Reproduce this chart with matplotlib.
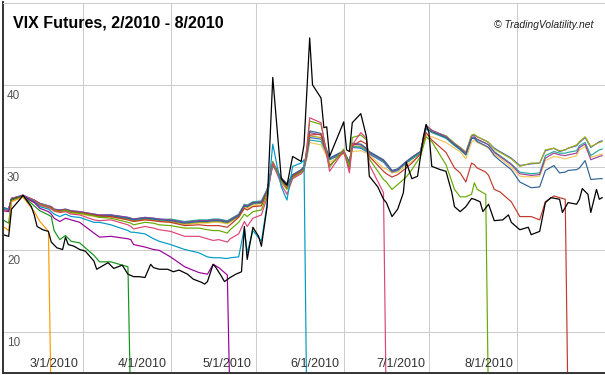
import numpy as np
import matplotlib
matplotlib.use("Agg")
import matplotlib.pyplot as plt

plt.rcParams['font.family'] = ['Liberation Sans', 'DejaVu Sans']

start = np.datetime64('2010-02-01')

fut_days = [0, 2, 3, 7, 11, 13, 16, 17, 18, 20,
            22, 24, 27, 32, 34, 38, 44, 45, 46, 50,
            53, 55, 59, 64, 69, 72, 74, 76, 79, 80,
            83, 85, 86, 88, 91, 93, 95, 98, 100, 102,
            105, 106, 107, 108, 112, 115, 120, 122, 123, 126,
            128, 129, 134, 135, 137, 139, 142, 144, 147, 149,
            151, 156, 159, 161, 163, 165, 166, 167, 170, 171,
            173, 175, 179, 182, 186, 189, 191, 194, 196, 198,
            199, 202, 203, 205, 207, 210, 211]

# expiring contracts: quotes until expiry, then 0
feb = [22.8, 22.3, 25.8, 26.4, 24.6, 23.4, 22.2, 0]
mar = [23.6, 23.2, 26.0, 26.5, 25.3, 24.7, 24.2, 24.0, 22.3, 21.2,
       21.7, 21.0, 20.8, 19.3, 18.5, 18.5, 17.9, 0]
apr = [24.7, 24.6, 26.1, 26.5, 25.7, 25.0, 24.6, 24.3, 23.8, 23.4,
       23.8, 23.6, 23.3, 22.0, 21.5, 21.6, 21.3, 21.2, 20.6, 20.3,
       20.0, 19.9, 19.1, 17.9, 17.2, 17.0, 18.2, 17.8, 16.9, 0]
may = [25.0, 24.9, 26.1, 26.5, 25.8, 25.2, 24.9, 24.6, 24.3, 24.0,
       24.3, 24.0, 23.9, 23.3, 23.3, 23.0, 22.3, 22.1, 22.1, 21.9,
       21.3, 21.0, 20.6, 20.0, 19.6, 19.1, 19.0, 19.0, 18.9, 19.0,
       19.1, 22.6, 19.6, 22.3, 21.0, 25.5, 32.8, 27.6, 26.0, 30.1,
       30.5, 30.9, 0]
jun = [24.9, 24.8, 26.2, 26.5, 25.9, 25.4, 25.1, 24.9, 24.7, 24.5,
       24.6, 24.3, 24.2, 23.6, 23.5, 23.6, 23.0, 22.8, 22.5, 22.8,
       22.6, 22.4, 22.2, 21.6, 21.6, 21.3, 21.1, 21.2, 20.9, 21.3,
       21.9, 23.4, 22.8, 23.8, 24.2, 26.3, 30.5, 27.9, 26.7, 28.6,
       29.2, 29.6, 32.4, 36.0, 35.4, 29.5, 32.0, 29.3, 32.7, 34.2,
       33.5, 30.3, 26.9, 0]
jul = [25.0, 24.8, 26.2, 26.5, 25.9, 25.5, 25.2, 25.0, 24.8, 24.6,
       24.8, 24.5, 24.4, 24.1, 23.9, 23.8, 23.3, 23.2, 23.0, 23.3,
       23.2, 23.0, 22.9, 22.6, 22.6, 22.4, 22.3, 22.3, 22.0, 22.4,
       23.3, 24.3, 24.0, 24.6, 24.8, 26.7, 30.7, 28.2, 27.3, 28.7,
       29.4, 29.7, 32.2, 35.6, 35.2, 30.0, 32.2, 30.0, 33.6, 33.9,
       33.3, 31.0, 28.5, 28.2, 27.3, 27.9, 28.8, 29.7, 31.3, 33.7,
       33.1, 30.3, 27.3, 26.4, 26.4, 26.7, 28.1, 27.3, 26.7, 0]
aug = [25.0, 24.9, 26.2, 26.5, 26.0, 25.5, 25.2, 25.1, 24.8, 24.7,
       24.8, 24.6, 24.5, 24.2, 24.1, 24.0, 23.6, 23.5, 23.4, 23.6,
       23.5, 23.4, 23.3, 22.9, 23.0, 22.9, 22.9, 22.9, 22.7, 23.0,
       23.9, 25.0, 24.8, 25.2, 25.3, 27.0, 30.6, 28.4, 27.5, 28.9,
       29.5, 29.8, 32.0, 33.9, 34.0, 30.2, 31.9, 29.8, 32.6, 33.2,
       32.8, 31.3, 29.5, 29.2, 28.8, 29.1, 29.9, 30.5, 31.6, 34.2,
       33.3, 31.8, 29.9, 29.3, 28.2, 30.5, 30.3, 29.9, 29.4, 29.0,
       27.3, 27.0, 25.8, 24.0, 24.0, 23.6, 25.8, 26.5, 26.3, 26.1,
       0]

# later contracts, quoted over the whole period
sep = [25.0, 24.8, 26.1, 26.5, 25.9, 25.5, 25.2, 25.1, 24.8, 24.7,
       24.8, 24.6, 24.5, 24.2, 24.1, 24.1, 23.8, 23.7, 23.6, 23.8,
       23.7, 23.6, 23.5, 23.2, 23.4, 23.4, 23.5, 23.5, 23.3, 23.5,
       24.1, 25.3, 25.2, 25.6, 25.7, 27.1,
       30.6, 28.7, 28.0, 29.1, 29.7, 30.1, 31.9, 34.4, 34.1, 31.1,
       32.0, 30.5, 32.9, 32.8, 32.3, 31.9, 30.9, 30.5, 29.6, 29.8,
       30.7, 31.2, 31.9,
       34.7, 34.3, 33.6, 32.7, 32.2, 31.5, 33.5, 33.5, 33.1, 32.6, 32.4,
       31.4, 30.8, 29.7, 28.2, 27.5, 27.6, 29.6, 30.2, 29.3, 29.4,
       29.6, 29.7, 29.9, 30.8, 28.5, 28.6, 28.6]
oct_ = [25.1, 24.9, 26.2, 26.6, 26.0, 25.6, 25.3, 25.2, 24.9, 24.8,
        24.9, 24.7, 24.6, 24.3, 24.2, 24.2, 23.9, 23.8, 23.7, 23.9,
        23.8, 23.7, 23.6, 23.3, 23.5, 23.5, 23.6, 23.6, 23.4, 23.6,
        24.2, 25.4, 25.3, 25.7, 25.8, 27.2,
        30.5, 28.6, 27.9, 29.0, 29.6, 30.0, 31.8, 34.2, 33.9, 31.0,
        31.9, 30.6, 32.8, 32.7, 32.2, 31.8, 30.8, 30.4, 29.5, 29.7,
        30.6, 31.2, 31.9,
        35.1, 34.5, 33.7, 32.8, 32.3, 31.7, 33.6, 33.7, 33.4, 32.9, 32.7,
        31.8, 31.3, 30.3, 29.2, 29.0, 29.1, 31.1, 31.7, 31.5, 31.4,
        31.5, 31.7, 32.4, 32.8, 30.9, 31.3, 31.4]
nov = [25.0, 24.8, 26.1, 26.5, 25.9, 25.5, 25.2, 25.1, 24.8, 24.7,
       24.8, 24.6, 24.5, 24.2, 24.1, 24.1, 23.8, 23.7, 23.6, 23.8,
       23.7, 23.6, 23.7, 23.4, 23.6, 23.6, 23.7, 23.7, 23.5, 23.7,
       24.3, 25.5, 25.4, 25.8, 25.9, 27.3,
       30.2, 28.5, 27.9, 28.9, 29.5, 29.9, 31.3, 33.3, 33.1, 30.9,
       31.8, 30.6, 32.5, 32.4, 32.0, 31.7, 30.7, 30.3, 29.5, 29.6,
       30.5, 31.0, 31.7,
       34.7, 34.2, 33.5, 32.6, 32.1, 31.5, 33.5, 33.6, 33.3, 32.9, 32.7,
       31.9, 31.4, 30.4, 29.4, 29.2, 29.3, 31.4, 31.9, 31.7, 31.7,
       31.8, 32.0, 32.6, 33.0, 31.4, 32.1, 32.2]
dec = [24.9, 24.7, 26.0, 26.4, 25.8, 25.4, 25.1, 25.0, 24.7, 24.6,
       24.7, 24.5, 24.4, 24.1, 24.0, 24.0, 23.7, 23.6, 23.5, 23.7,
       23.6, 23.5, 23.4, 23.1, 23.3, 23.3, 23.4, 23.4, 23.2, 23.4,
       24.0, 25.2, 25.1, 25.5, 25.6, 27.0,
       30.4, 28.6, 27.9, 28.9, 29.5, 29.9, 31.5, 33.8, 33.6, 31.0,
       31.8, 30.6, 32.6, 32.5, 32.1, 31.8, 30.7, 30.4, 29.5, 29.7,
       30.6, 31.1, 31.8,
       34.9, 34.4, 33.8, 32.9, 32.4, 31.8, 33.9, 34.0, 33.7, 33.2, 33.0,
       32.2, 31.8, 31.0, 30.1, 30.5, 30.5, 32.1, 32.3, 32.0, 32.1,
       32.3, 32.7, 33.1, 33.7, 32.5, 33.0, 33.1]
jan = [25.1, 24.9, 26.2, 26.6, 26.0, 25.6, 25.3, 25.2, 24.9, 24.8,
       24.9, 24.7, 24.6, 24.3, 24.2, 24.2, 23.9, 23.8, 23.7, 23.9,
       23.8, 23.7, 23.6, 23.3, 23.5, 23.5, 23.6, 23.6, 23.4, 23.6,
       24.2, 25.4, 25.3, 25.7, 25.8, 27.2,
       30.3, 28.5, 27.8, 28.8, 29.4, 29.8, 31.4, 33.6, 33.4, 30.9,
       31.7, 30.6, 32.4, 32.3, 31.9, 31.6, 30.6, 30.2, 29.4, 29.6,
       30.5, 31.0, 31.7,
       34.9, 34.4, 33.8, 32.9, 32.4, 31.8, 33.8, 33.9, 33.7, 33.2, 33.0,
       32.3, 31.9, 31.1, 30.2, 30.4, 30.5, 32.0, 32.3, 31.9, 32.1,
       32.3, 32.6, 33.0, 33.6, 32.4, 33.1, 33.2]
feb11 = [24.8, 24.6, 25.9, 26.3, 25.7, 25.3, 25.0, 24.9, 24.6, 24.5,
         24.6, 24.4, 24.3, 24.0, 23.9, 23.9, 23.6, 23.5, 23.4, 23.6,
         23.5, 23.4, 23.3, 23.0, 23.2, 23.2, 23.3, 23.3, 23.1, 23.3,
         23.9, 25.0, 24.9, 25.3, 25.4, 26.8,
         30.3, 28.4, 27.9, 28.7, 29.3, 29.7, 31.0, 33.0, 32.7, 30.6,
         31.6, 30.7, 31.9, 32.0, 31.7, 31.5, 29.9, 29.8, 29.3, 29.4,
         30.2, 30.7, 31.5,
         33.9, 33.7, 33.0, 32.3, 31.9, 31.0, 33.0, 33.3, 33.0, 32.5, 32.3,
         31.6, 31.1, 30.0, 28.9, 28.8, 28.9, 30.8, 31.3, 31.2, 31.0,
         31.1, 31.4, 32.1, 32.5, 31.2, 31.5, 31.6]

# VIX index
vix_days = [0, 2, 3, 6, 7, 10, 11, 12, 14, 16,
            17, 19, 21, 22, 23, 25, 27, 29, 32, 33,
            34, 37, 39, 42, 44, 46, 48, 50, 52, 53,
            55, 58, 60, 62, 65, 67, 70, 71, 72, 74,
            75, 77, 78, 80, 82, 84, 85, 86, 88, 90,
            91, 93, 95, 98, 100, 102, 105, 106, 108, 109,
            112, 113, 114, 115, 120, 121, 122, 123, 126, 128,
            129, 132, 134, 135, 137, 139, 141, 142, 144, 146,
            148, 149, 150, 151, 154, 156, 158, 159, 161, 163,
            165, 166, 168, 169, 171, 173, 176, 178, 179, 182,
            185, 186, 189, 191, 193, 196, 197, 199, 202, 203,
            204, 206, 207, 209, 210, 211]
vix = [21.8, 21.6, 24.9, 26.1, 26.6, 25.2, 24.2, 22.8, 22.4, 22.2,
       20.9, 20.2, 20.0, 21.5, 20.6, 20.4, 20.0, 19.8, 18.6, 17.6,
       17.8, 18.4, 17.7, 18.1, 17.0, 16.7, 16.7, 16.6, 18.2, 17.8,
       17.6, 17.6, 17.3, 17.5, 17.0, 16.4, 16.0, 15.8, 16.1, 18.2,
       17.8, 16.7, 16.1, 16.6, 17.0, 17.3, 22.8, 18.8, 22.7, 21.6,
       20.4, 25.2, 40.9, 28.6, 27.8, 31.3, 30.7, 32.7, 45.7, 40.0,
       38.4, 34.8, 34.9, 31.3, 35.5, 32.1, 31.9, 35.4, 36.5, 33.7,
       28.9, 27.6, 26.1, 25.7, 24.0, 24.9, 26.9, 30.6, 28.6, 28.9,
       33.6, 35.2, 34.2, 30.1, 29.7, 29.5, 27.0, 25.2, 24.6, 25.2,
       26.2, 26.1, 25.8, 24.6, 25.5, 23.5, 23.6, 24.2, 23.3, 22.4,
       22.7, 21.8, 22.2, 25.7, 26.3, 26.1, 24.5, 25.7, 25.5, 26.1,
       27.4, 26.7, 24.5, 27.3, 26.1, 26.3]

month_starts = ['2010-03-01', '2010-04-01', '2010-05-01',
                '2010-06-01', '2010-07-01', '2010-08-01']
month_labels = ['3/1/2010', '4/1/2010', '5/1/2010',
                '6/1/2010', '7/1/2010', '8/1/2010']
y_labels = [10, 20, 30, 40]

futures = [
    (feb11, '#f7c65c'), (jan, '#3366cc'), (dec, '#aaaa11'),
    (nov, '#22aa99'), (oct_, '#994499'), (sep, '#316395'),
    (aug, '#c0392b'), (jul, '#66aa00'), (jun, '#dd4477'),
    (may, '#0099c6'), (apr, '#990099'), (mar, '#109618'),
    (feb, '#ff9900'),
]

fig = plt.figure(figsize=(6.05, 3.75), dpi=100)
ax = fig.add_axes([3 / 605, 2 / 375, 602 / 605, 370.5 / 375])

x = start + np.array(fut_days).astype('timedelta64[D]')
for values, color in futures:
    y = np.full(len(fut_days), np.nan)
    y[:len(values)] = values
    ax.plot(x, y, color=color, lw=0.85)

vx = start + np.array(vix_days).astype('timedelta64[D]')
ax.plot(vx, vix, color='black', lw=0.9)

ax.set_xlim(start, np.datetime64('2010-09-01'))
ax.set_ylim(5, 50)

ticks = np.array(month_starts, dtype='datetime64[D]')
ax.set_xticks(ticks)
ax.set_yticks([10, 20, 30, 40, 50])
ax.grid(color='#cccccc', lw=0.75)
ax.set_axisbelow(True)
ax.tick_params(length=0, labelleft=False, labelbottom=False)

ax.spines['right'].set_visible(False)
ax.spines['top'].set_color('#cccccc')
ax.spines['top'].set_linewidth(0.75)
ax.spines['left'].set_color('#333333')
ax.spines['left'].set_linewidth(1.4)
ax.spines['bottom'].set_color('#333333')
ax.spines['bottom'].set_linewidth(1.4)

for t, lab in zip(ticks, month_labels):
    ax.annotate(lab, xy=(t, 0), xycoords=('data', 'axes fraction'),
                xytext=(-4, 3), textcoords='offset pixels',
                ha='right', va='bottom', fontsize=9, color='#333333')

for v in y_labels:
    ax.annotate(str(v), xy=(0, v), xycoords=('axes fraction', 'data'),
                xytext=(4, -5), textcoords='offset pixels',
                ha='left', va='top', fontsize=8.5, color='#555555')

fig.text(13 / 605, 1 - 27 / 375, 'VIX Futures, 2/2010 - 8/2010',
         fontsize=11.5, fontweight='bold', ha='left', va='baseline')
fig.text(593 / 605, 1 - 28 / 375, '\u00a9 TradingVolatility.net',
         fontsize=7.5, style='italic', ha='right', va='baseline',
         color='#222222')

fig.savefig('out.png', dpi=100)
